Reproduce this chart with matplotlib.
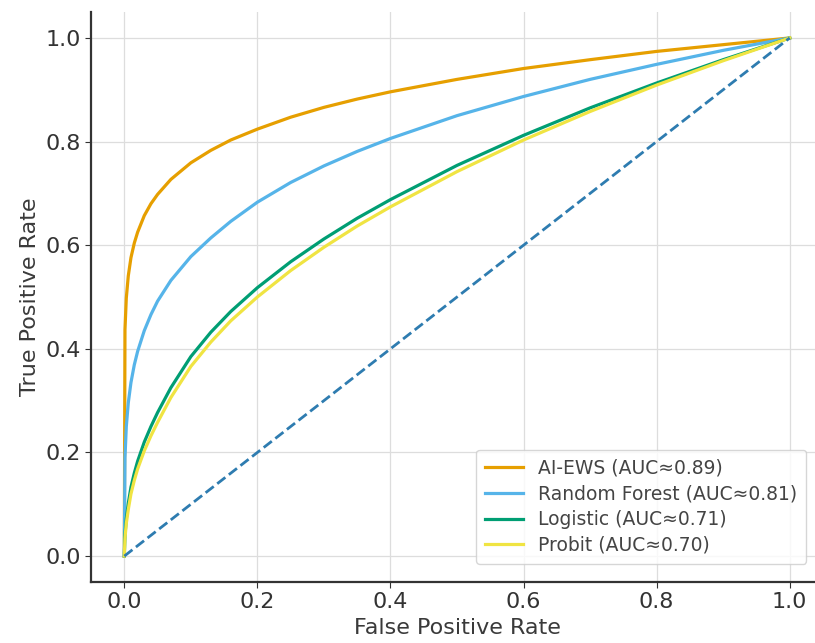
import matplotlib
matplotlib.use("Agg")
import matplotlib.pyplot as plt

# False positive rate grid
fpr = [0, 0.001, 0.003, 0.006, 0.01, 0.015, 0.02, 0.03, 0.04, 0.05, 0.07, 0.1,
       0.13, 0.16, 0.2, 0.25, 0.3, 0.35, 0.4, 0.5, 0.6, 0.7, 0.8, 0.9, 1.0]

tpr_ai_ews = [0, 0.437, 0.498, 0.541, 0.576, 0.604, 0.625, 0.657, 0.680, 0.698, 0.727, 0.759,
              0.783, 0.803, 0.824, 0.847, 0.866, 0.882, 0.896, 0.920, 0.941, 0.958, 0.974, 0.987, 1.0]
tpr_rf = [0, 0.190, 0.250, 0.296, 0.335, 0.369, 0.395, 0.435, 0.466, 0.492, 0.532, 0.578,
          0.614, 0.646, 0.683, 0.721, 0.753, 0.781, 0.806, 0.850, 0.887, 0.920, 0.949, 0.976, 1.0]
tpr_logistic = [0, 0.040, 0.072, 0.102, 0.133, 0.160, 0.183, 0.220, 0.250, 0.277, 0.325, 0.385,
                0.432, 0.472, 0.518, 0.568, 0.612, 0.652, 0.688, 0.754, 0.812, 0.865, 0.913, 0.958, 1.0]
tpr_probit = [0, 0.034, 0.063, 0.090, 0.120, 0.146, 0.168, 0.203, 0.232, 0.258, 0.306, 0.366,
              0.413, 0.454, 0.500, 0.551, 0.596, 0.637, 0.674, 0.742, 0.803, 0.858, 0.909, 0.956, 1.0]

labels = ["AI-EWS (AUC≈0.89)", "Random Forest (AUC≈0.81)",
          "Logistic (AUC≈0.71)", "Probit (AUC≈0.70)"]
colors = ["#E69F00", "#56B4E9", "#009E73", "#F0E442"]
diag = [0, 1]

fig = plt.figure(figsize=(8.15, 6.43), dpi=100)
ax = fig.add_axes([0.1117, 0.0949, 0.8981, 0.8864])

for y, lab, c in zip([tpr_ai_ews, tpr_rf, tpr_logistic, tpr_probit], labels, colors):
    ax.plot(fpr, y, color=c, lw=2.3, label=lab)
ax.plot(diag, diag, linestyle="--", color="#2E7CB0", lw=2.0)

ax.set_xlim(-0.05, 1.05)
ax.set_ylim(-0.05, 1.05)
ax.set_xticks([0, 0.2, 0.4, 0.6, 0.8, 1.0])
ax.set_yticks([0, 0.2, 0.4, 0.6, 0.8, 1.0])
ax.grid(True, color="#dddddd", lw=0.9)
ax.set_axisbelow(True)
for s in ["top", "right"]:
    ax.spines[s].set_visible(False)
for s in ["left", "bottom"]:
    ax.spines[s].set_color("#333333")
    ax.spines[s].set_linewidth(1.6)
ax.tick_params(labelsize=16, colors="#333333", length=4)
ax.set_xlabel("False Positive Rate", fontsize=16, color="#3a3a3a", labelpad=4)
ax.set_ylabel("True Positive Rate", fontsize=16, color="#3a3a3a", labelpad=4)

leg = ax.legend(loc="lower right", fontsize=13.5, frameon=True, handlelength=2.0,
                borderpad=0.5, labelspacing=0.35, bbox_to_anchor=(0.99, 0.015))
for t in leg.get_texts():
    t.set_color("#444444")

fig.savefig("out.png", dpi=100)
